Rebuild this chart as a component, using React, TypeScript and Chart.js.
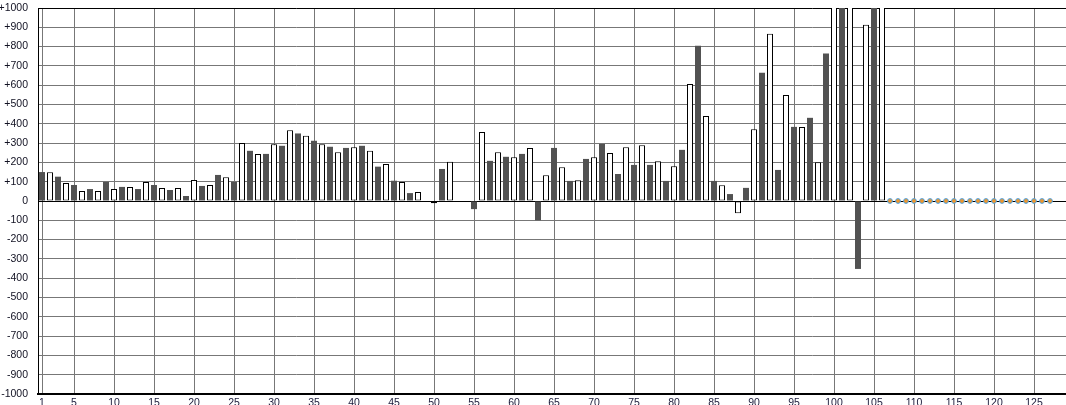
import React, { useEffect, useRef } from 'react';
import { Chart, registerables } from 'chart.js';

Chart.register(...registerables);

// Category labels 1..129 (axis shows 1, 5, 10, ...)
const categoryCount = 129;
const categories: string[] = Array.from({ length: categoryCount }, (_, i) => String(i + 1));

// Dark (filled) bars: categories 1, 3, 5, ..., 105
const darkValues: number[] = [
  150, 126, 83, 62, 99, 73, 62, 83, 57, 26,
  78, 135, 99, 260, 244, 286, 350, 312, 281, 275,
  286, 178, 105, 41, 0, 166, 0, -42, 208, 229,
  244, -100, 275, 104, 218, 296, 140, 187, 187, 104,
  265, 805, 104, 36, 68, 665, 161, 384, 431, 764,
  1200, -352, 1200,
];

// White (outlined) bars: categories 2, 4, 6, ..., 106
const lightValues: number[] = [
  149, 93, 52, 52, 62, 73, 99, 68, 68, 109,
  83, 123, 301, 244, 294, 367, 338, 294, 253, 279,
  260, 192, 99, 47, -12, 203, 0, 357, 253, 227,
  274, 133, 175, 107, 227, 249, 279, 289, 206, 180,
  606, 440, 81, -64, 372, 866, 549, 383, 201, 1200,
  1200, 913, 1200,
];

// Point markers: categories 107..127
const markerFirstCategory = 107;
const markerValues: number[] = [
  0, 0, 0, 0, 0, 0, 0, 0, 0, 0, 0, 0, 0, 0, 0, 0, 0, 0, 0, 0, 0,
];

const yMin = -1000;
const yMax = 1000;
const yStep = 100;

const darkData = categories.map((_, i) =>
  i % 2 === 0 && i / 2 < darkValues.length ? darkValues[i / 2] : null
);
const lightData = categories.map((_, i) =>
  i % 2 === 1 && (i - 1) / 2 < lightValues.length ? lightValues[(i - 1) / 2] : null
);
const markerData = categories.map((_, i) => {
  const k = i + 1 - markerFirstCategory;
  return k >= 0 && k < markerValues.length ? markerValues[k] : null;
});

const isLabeled = (idx: number) => {
  const n = idx + 1;
  return n === 1 || n % 5 === 0;
};

const FONT = "'Liberation Sans', Arial, sans-serif";

export default function App() {
  const ref = useRef<HTMLCanvasElement | null>(null);

  useEffect(() => {
    if (!ref.current) return;
    const chart = new Chart(ref.current, {
      type: 'bar',
      data: {
        labels: categories,
        datasets: [
          {
            type: 'line',
            data: markerData,
            showLine: false,
            pointRadius: 2.4,
            pointBackgroundColor: '#f0962a',
            pointBorderColor: '#4aa3e8',
            pointBorderWidth: 1,
            order: 0,
          } as any,
          {
            data: darkData,
            backgroundColor: '#525252',
            borderWidth: 0,
            inflateAmount: 0,
            categoryPercentage: 1,
            barPercentage: 0.75,
            order: 1,
          },
          {
            data: lightData,
            backgroundColor: '#ffffff',
            borderColor: '#000000',
            borderWidth: 1,
            borderSkipped: false,
            inflateAmount: 0,
            categoryPercentage: 1,
            barPercentage: 0.75,
            order: 1,
          },
        ],
      },
      options: {
        responsive: false,
        animation: false,
        events: [],
        layout: { autoPadding: false, padding: { top: 8, left: 0, right: 0, bottom: 0 } },
        plugins: {
          legend: { display: false },
          tooltip: { enabled: false },
        },
        scales: {
          x: {
            stacked: true,
            offset: true,
            grid: {
              offset: false,
              drawTicks: false,
              lineWidth: 1,
              color: (ctx: any) => (isLabeled(ctx.index) ? '#777777' : 'rgba(0,0,0,0)'),
            },
            border: { display: true, color: '#000000', width: 2 },
            ticks: {
              autoSkip: false,
              maxRotation: 0,
              minRotation: 0,
              padding: 3,
              color: '#1a1a3a',
              font: { family: FONT, size: 10.5 },
              callback: (_v: any, idx: number) => (isLabeled(idx) ? String(idx + 1) : ''),
            },
            afterFit: (s: any) => {
              s.height = 22;
              s.paddingLeft = 0;
              s.paddingRight = 0;
            },
          },
          y: {
            stacked: false,
            min: yMin,
            max: yMax,
            grid: {
              drawTicks: false,
              lineWidth: 1,
              color: (ctx: any) => {
                const v = ctx.tick ? ctx.tick.value : null;
                return v === 0 || v === yMax ? '#000000' : '#777777';
              },
            },
            border: { display: true, color: '#000000', width: 1 },
            ticks: {
              stepSize: yStep,
              padding: 10,
              color: '#111122',
              font: { family: FONT, size: 10.5 },
              callback: (v: any) => (Number(v) > 0 ? '+' + v : String(v)),
            },
            afterFit: (s: any) => {
              s.width = 38;
              s.paddingTop = 0;
              s.paddingBottom = 0;
            },
          },
        },
      },
    });
    return () => chart.destroy();
  }, []);

  return (
    <div
      style={{
        position: 'fixed',
        left: 0,
        top: 0,
        width: 1066,
        height: 405,
        overflow: 'hidden',
        background: '#ffffff',
      }}
    >
      <canvas ref={ref} width={1070} height={416} style={{ display: 'block' }} />
    </div>
  );
}
